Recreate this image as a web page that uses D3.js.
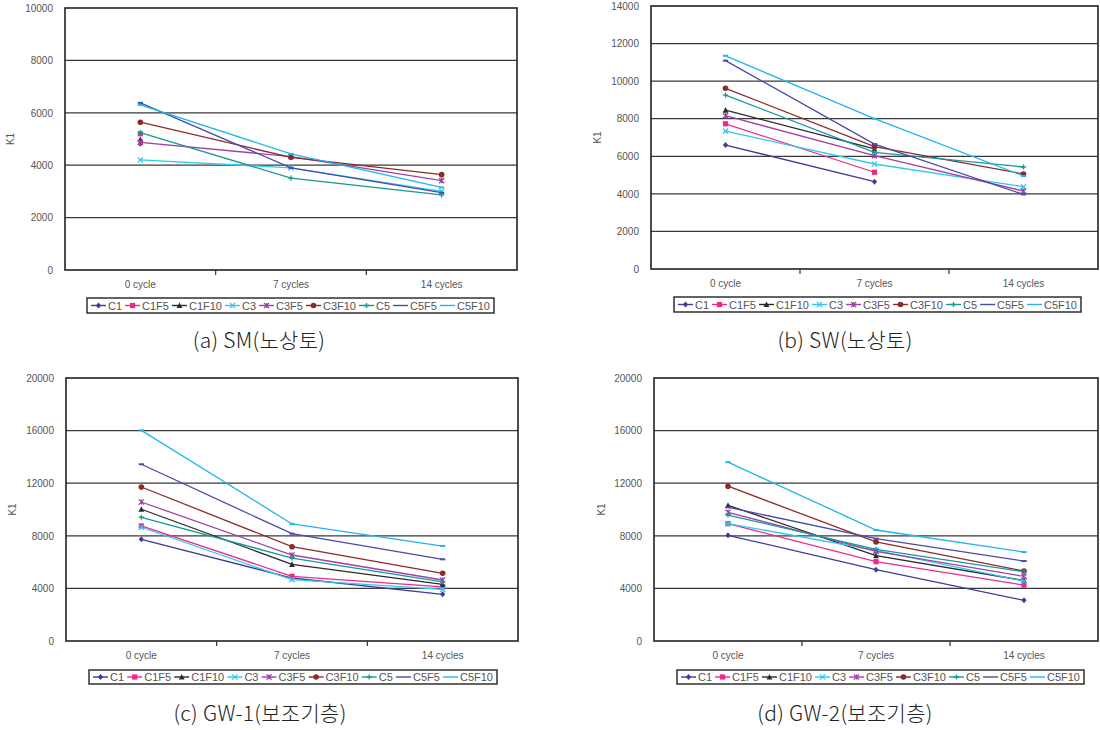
<!DOCTYPE html>
<html>
<head>
<meta charset="utf-8">
<script src="https://cdn.jsdelivr.net/npm/d3@7/dist/d3.min.js"></script>
<style>
  html, body { margin: 0; padding: 0; background: #fff; }
  svg { display: block; }
  .tick-label { font-family: "Liberation Sans", Arial, sans-serif; font-size: 10px; fill: #555; }
  .legend-text { font-family: "Liberation Sans", Arial, sans-serif; font-size: 11px; fill: #555; }
  .caption { font-family: "Noto Sans CJK KR", "Noto Sans", sans-serif; font-size: 21px; fill: #222; font-weight: 300; letter-spacing: 0.3px; }
</style>
</head>
<body>
<svg id="chart" width="1100" height="730"></svg>
<script>
// Categories (freeze-thaw cycles) and series names
const categories = ["0 cycle", "7 cycles", "14 cycles"];
const seriesNames = ["C1", "C1F5", "C1F10", "C3", "C3F5", "C3F10", "C5", "C5F5", "C5F10"];
const seriesColors = ["#3c3c98", "#f0288c", "#2a2a2a", "#2ec8f2", "#a040a6", "#8c2a2a", "#16989a", "#4a4aa8", "#1eb6f0"];
const seriesMarkers = ["diamond", "square", "triangle", "x", "star", "circle", "plus", "dash", "dash"];

// K1 values, one row per series (null = not measured)
const smValues = [
  [4820, null, null],
  [5200, null, null],
  [4980, null, null],
  [4200, 3900, 3000],
  [4870, 4330, 3410],
  [5640, 4300, 3640],
  [5240, 3510, 2870],
  [6380, 3900, 2950],
  [6300, 4430, 3150]
];
const swValues = [
  [6600, 4650, null],
  [7730, 5150, null],
  [8460, 6390, null],
  [7340, 5590, 4380],
  [8160, 6030, 4150],
  [9620, 6510, 5060],
  [9260, 6210, 5430],
  [11090, 6650, 3970],
  [11350, 8000, 4950]
];
const gw1Values = [
  [7730, 4790, 3550],
  [8750, 4920, 4110],
  [10020, 5830, 4310],
  [8650, 4660, 3930],
  [10570, 6540, 4640],
  [11710, 7170, 5150],
  [9410, 6310, 4490],
  [13440, 8160, 6210],
  [16020, 8900, 7220]
];
const gw2Values = [
  [8040, 5420, 3090],
  [8930, 6030, 4250],
  [10320, 6490, 4600],
  [8930, 6890, 4550],
  [9790, 6820, 4910],
  [11770, 7530, 5320],
  [9580, 6970, 5270],
  [10170, 7780, 6080],
  [13600, 8440, 6760]
];

// Y-axis tick labels per panel
const smTicks = [0, 2000, 4000, 6000, 8000, 10000];
const swTicks = [0, 2000, 4000, 6000, 8000, 10000, 12000, 14000];
const gwTicks = [0, 4000, 8000, 12000, 16000, 20000];

const captions = ["(a) SM(노상토)", "(b) SW(노상토)", "(c) GW-1(보조기층)", "(d) GW-2(보조기층)"];

const panels = [
  { values: smValues,  ticks: smTicks, caption: captions[0],
    box: { left: 65,  right: 517,  top: 8,   bottom: 270 },
    legend: { x: 87,  y: 298, w: 407, h: 15 }, capPos: [259, 348], catY: 288, k1X: 14 },
  { values: swValues,  ticks: swTicks, caption: captions[1],
    box: { left: 651, right: 1098, top: 6,   bottom: 269 },
    legend: { x: 674, y: 297, w: 407, h: 15 }, capPos: [845, 348], catY: 287, k1X: 601 },
  { values: gw1Values, ticks: gwTicks, caption: captions[2],
    box: { left: 66,  right: 518,  top: 378, bottom: 641 },
    legend: { x: 89,  y: 670, w: 408, h: 14 }, capPos: [260, 721], catY: 659, k1X: 16 },
  { values: gw2Values, ticks: gwTicks, caption: captions[3],
    box: { left: 654, right: 1098, top: 378, bottom: 641 },
    legend: { x: 677, y: 670, w: 407, h: 14 }, capPos: [845, 721], catY: 659, k1X: 605 }
];

const svg = d3.select("#chart");

function drawMarker(g, type, color, x, y) {
  const s = 2.6;
  if (type === "diamond") {
    g.append("path").attr("d", `M${x},${y - s - 0.4}L${x + s},${y}L${x},${y + s + 0.4}L${x - s},${y}Z`).attr("fill", color);
  } else if (type === "square") {
    g.append("rect").attr("x", x - s).attr("y", y - s).attr("width", 2 * s).attr("height", 2 * s).attr("fill", color);
  } else if (type === "triangle") {
    g.append("path").attr("d", `M${x},${y - s - 0.4}L${x + s + 0.3},${y + s}L${x - s - 0.3},${y + s}Z`).attr("fill", color);
  } else if (type === "circle") {
    g.append("circle").attr("cx", x).attr("cy", y).attr("r", s + 0.2).attr("fill", color);
  } else if (type === "x") {
    g.append("path").attr("d", `M${x - s},${y - s}L${x + s},${y + s}M${x - s},${y + s}L${x + s},${y - s}`)
      .attr("stroke", color).attr("stroke-width", 1.3);
  } else if (type === "star") {
    g.append("path").attr("d", `M${x - s},${y - s}L${x + s},${y + s}M${x - s},${y + s}L${x + s},${y - s}M${x},${y - s}L${x},${y + s}`)
      .attr("stroke", color).attr("stroke-width", 1.3);
  } else if (type === "plus") {
    g.append("path").attr("d", `M${x - s},${y}L${x + s},${y}M${x},${y - s}L${x},${y + s}`)
      .attr("stroke", color).attr("stroke-width", 1.3);
  } else if (type === "dash") {
    g.append("path").attr("d", `M${x - s},${y}L${x + s},${y}`)
      .attr("stroke", color).attr("stroke-width", 2);
  }
}

panels.forEach(p => {
  const b = p.box;
  const g = svg.append("g");
  const x = d3.scaleBand().domain(categories).range([b.left, b.right]).padding(0);
  const yMax = p.ticks[p.ticks.length - 1];
  const y = d3.scaleLinear().domain([0, yMax]).range([b.bottom, b.top]);

  // horizontal gridlines
  g.append("g").selectAll("line").data(p.ticks.slice(1, -1)).join("line")
    .attr("x1", b.left).attr("x2", b.right)
    .attr("y1", d => y(d)).attr("y2", d => y(d))
    .attr("stroke", "#3a3a3a").attr("stroke-width", 1.3);

  // Y axis tick labels
  const yAxis = d3.axisLeft(y).tickValues(p.ticks).tickSize(0).tickPadding(12).tickFormat(d3.format("d"));
  const ya = g.append("g").attr("transform", `translate(${b.left},0)`).call(yAxis);
  ya.select(".domain").remove();
  ya.selectAll("text").attr("class", "tick-label").attr("font-family", null).attr("font-size", null);

  // X axis: category labels centered, tick marks at category boundaries
  const xAxis = d3.axisBottom(x).tickSize(0).tickPadding(p.catY - b.bottom - 7);
  const xa = g.append("g").attr("transform", `translate(0,${b.bottom})`).call(xAxis);
  xa.select(".domain").remove();
  xa.selectAll("text").attr("class", "tick-label").attr("font-family", null).attr("font-size", null);
  g.append("g").selectAll("line").data(categories.slice(1)).join("line")
    .attr("x1", d => x(d)).attr("x2", d => x(d))
    .attr("y1", b.bottom).attr("y2", b.bottom + 5)
    .attr("stroke", "#333").attr("stroke-width", 1.2);

  // plot frame
  g.append("rect").attr("x", b.left).attr("y", b.top)
    .attr("width", b.right - b.left).attr("height", b.bottom - b.top)
    .attr("fill", "none").attr("stroke", "#222").attr("stroke-width", 1.6);

  // Y axis title
  g.append("text").attr("class", "tick-label")
    .attr("transform", `translate(${p.k1X},${(b.top + b.bottom) / 2}) rotate(-90)`)
    .attr("text-anchor", "middle").text("K1");

  // series lines and markers
  const line = d3.line()
    .defined(d => d.v !== null)
    .x(d => x(d.c) + x.bandwidth() / 2)
    .y(d => y(d.v));
  p.values.forEach((vals, i) => {
    const pts = vals.map((v, j) => ({ c: categories[j], v }));
    g.append("path").datum(pts).attr("d", line)
      .attr("fill", "none").attr("stroke", seriesColors[i]).attr("stroke-width", 1.3);
    const mg = g.append("g");
    pts.filter(d => d.v !== null).forEach(d =>
      drawMarker(mg, seriesMarkers[i], seriesColors[i], x(d.c) + x.bandwidth() / 2, y(d.v)));
  });

  // legend
  const L = p.legend;
  const lg = g.append("g");
  lg.append("rect").attr("x", L.x).attr("y", L.y).attr("width", L.w).attr("height", L.h)
    .attr("fill", "#fff").attr("stroke", "#222").attr("stroke-width", 1.4);
  const sample = 15, gapT = 2;
  const items = seriesNames.map((name, i) => {
    const ig = lg.append("g");
    const t = ig.append("text").attr("class", "legend-text").attr("y", L.y + L.h / 2 + 4).text(name);
    return { ig, t, w: sample + gapT + t.node().getComputedTextLength(), i };
  });
  const total = d3.sum(items, d => d.w);
  const pad = 4;
  const gap = (L.w - 2 * pad - total) / (items.length - 1);
  let cx = L.x + pad;
  items.forEach(it => {
    const cy = L.y + L.h / 2;
    it.ig.append("line").attr("x1", cx).attr("x2", cx + sample).attr("y1", cy).attr("y2", cy)
      .attr("stroke", seriesColors[it.i]).attr("stroke-width", 1.4);
    if (seriesMarkers[it.i] !== "dash") drawMarker(it.ig, seriesMarkers[it.i], seriesColors[it.i], cx + sample / 2, cy);
    it.t.attr("x", cx + sample + gapT);
    cx += it.w + gap;
  });

  // caption
  g.append("text").attr("class", "caption")
    .attr("x", p.capPos[0]).attr("y", p.capPos[1])
    .attr("text-anchor", "middle").text(p.caption);
});
</script>
</body>
</html>
